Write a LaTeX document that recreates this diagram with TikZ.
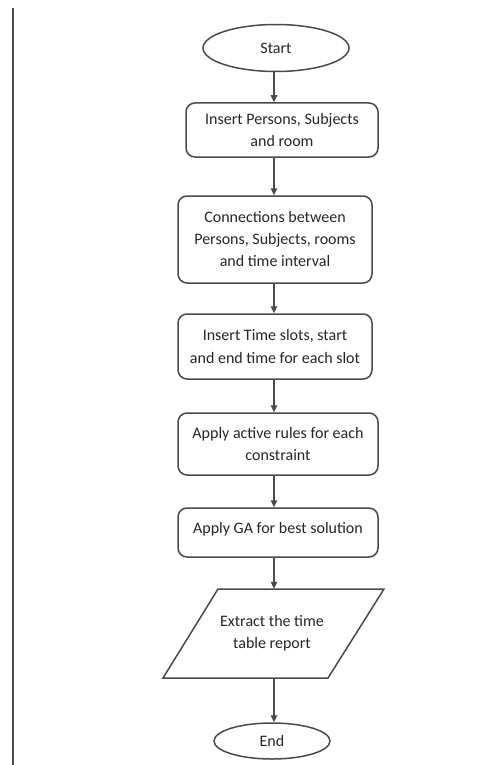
\documentclass[tikz,border=0pt]{standalone}
\usepackage{fontspec}
\setmainfont{Carlito}
\usetikzlibrary{arrows.meta,shapes.geometric,calc}
\definecolor{linecol}{HTML}{4A4A4A}
\definecolor{txtcol}{HTML}{262626}
\begin{document}
\begin{tikzpicture}[x=1pt,y=-1pt,
  every node/.style={font=\fontsize{16}{22}\selectfont, text=txtcol, align=center, inner sep=0pt},
  term/.style={ellipse, draw=linecol, line width=1.5pt},
  procbox/.style={rectangle, rounded corners=9pt, draw=linecol, line width=1.5pt},
  arr/.style={draw=linecol, line width=1.3pt, -{Triangle[length=7pt,width=6.5pt]}},
  ]
\useasboundingbox (0,0) rectangle (486,765);
\fill[white] (0,0) rectangle (486,765);
\coordinate (vtop) at (13,8);
\coordinate (vbot) at (13,765);
\draw[linecol, line width=1.8pt] (vtop) -- (vbot);
\coordinate (col) at (274,0);

\node[term, minimum width=146pt, minimum height=47pt] (start) at (276,48) {Start};
\node[procbox, minimum width=192pt, minimum height=54pt] (b1) at (282,130) {Insert Persons, Subjects\\and room};
\node[procbox, minimum width=194pt, minimum height=87pt] (b2) at (275,239.5) {Connections between\\Persons, Subjects, rooms\\and time interval};
\node[procbox, minimum width=194pt, minimum height=65pt] (b3) at (275,346.5) {Insert Time slots, start\\and end time for each slot};
\node[procbox, minimum width=200pt, minimum height=62pt] (b4) at (278,444) {Apply active rules for each\\constraint};
\node[procbox, minimum width=200pt, minimum height=49pt, text depth=10pt] (b5) at (278,532.5) {Apply GA for best solution};
\node[minimum width=166pt, minimum height=89pt] (rep) at (272,633.5) {Extract the time\\table report};
\draw[linecol, line width=1.5pt] (218,589) -- (384,589) -- (328,678) -- (163,678) -- cycle;
\node[term, minimum width=116pt, minimum height=36pt] (end) at (272,741) {End};

\draw[arr] (start.south -| col) -- (b1.north -| col);
\draw[arr] (b1.south -| col) -- (b2.north -| col);
\draw[arr] (b2.south -| col) -- (b3.north -| col);
\draw[arr] (b3.south -| col) -- (b4.north -| col);
\draw[arr] (b4.south -| col) -- (b5.north -| col);
\draw[arr] (b5.south -| col) -- (rep.north -| col);
\draw[arr] (rep.south -| col) -- (end.north -| col);
\end{tikzpicture}
\end{document}
